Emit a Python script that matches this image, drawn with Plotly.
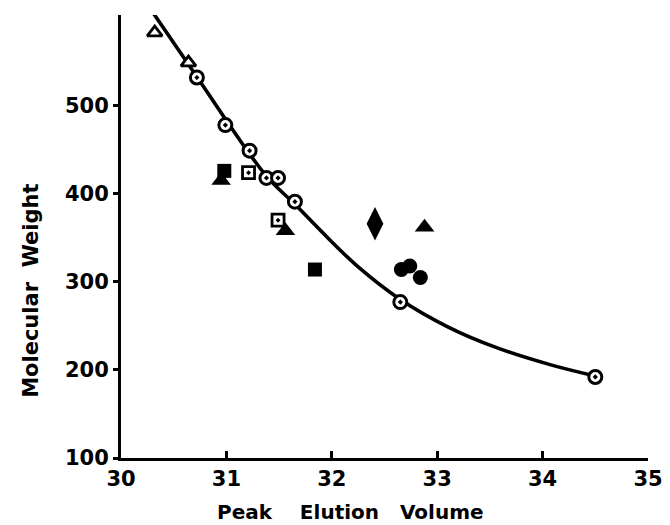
import plotly.graph_objects as go

# Fitted calibration curve
curve_x = [30.29, 30.72, 30.99, 31.38, 31.65, 31.97, 32.25, 32.65, 33.10, 33.57, 34.07, 34.50]
curve_y = [608, 533, 485, 420, 388, 349, 317, 280, 249, 225, 206, 193]

# Open circles with dot (on curve)
oc_x = [30.72, 30.99, 31.22, 31.38, 31.49, 31.65, 32.65, 34.50]
oc_y = [532, 478, 449, 418, 418, 391, 277, 192]

# Open triangles
ot_x = [30.32, 30.64]
ot_y = [583, 549]

# Open squares with dot
os_x = [31.21, 31.49]
os_y = [424, 370]

# Filled squares
fs_x = [30.98, 31.84]
fs_y = [426, 314]

# Filled triangles
ft_x = [30.95, 31.56, 32.88]
ft_y = [415, 358, 362]

# Filled diamond
fd_x = [32.41]
fd_y = [366]

# Filled circles
fc_x = [32.66, 32.74, 32.84]
fc_y = [314, 318, 305]

x_ticks = [30, 31, 32, 33, 34, 35]
y_ticks = [100, 200, 300, 400, 500]

fig = go.Figure()
fig.add_trace(go.Scatter(x=curve_x, y=curve_y, mode="lines",
                         line=dict(color="black", width=3.6, shape="spline", smoothing=1.0),
                         hoverinfo="skip"))
fig.add_trace(go.Scatter(x=ot_x, y=ot_y, mode="markers",
                         marker=dict(symbol="triangle-up", size=13, color="white", line=dict(color="black", width=2.8))))
fig.add_trace(go.Scatter(x=oc_x, y=oc_y, mode="markers",
                         marker=dict(symbol="circle-dot", size=13, color="white", line=dict(color="black", width=3))))
fig.add_trace(go.Scatter(x=os_x, y=os_y, mode="markers",
                         marker=dict(symbol="square-dot", size=12, color="white", line=dict(color="black", width=2.8))))
fig.add_trace(go.Scatter(x=fs_x, y=fs_y, mode="markers",
                         marker=dict(symbol="square", size=14, color="black")))
fig.add_trace(go.Scatter(x=ft_x, y=ft_y, mode="markers",
                         marker=dict(symbol="triangle-up", size=17, color="black")))
fig.add_trace(go.Scatter(x=fd_x, y=fd_y, mode="markers",
                         marker=dict(symbol="diamond-tall", size=24, color="black")))
fig.add_trace(go.Scatter(x=fc_x, y=fc_y, mode="markers",
                         marker=dict(symbol="circle", size=15, color="black")))

tfont = dict(size=21, family="DejaVu Sans", color="black", weight="bold")

fig.update_layout(
    width=662, height=517,
    paper_bgcolor="white", plot_bgcolor="white",
    showlegend=False,
    margin=dict(l=113, r=18, t=7, b=67),
    xaxis=dict(range=[30, 35], tickvals=x_ticks, ticks="inside", ticklen=7, tickwidth=2.5, tickcolor="black",
               showline=True, linecolor="black", linewidth=3, showgrid=False, zeroline=False,
               tickfont=tfont),
    yaxis=dict(range=[100, 603], tickvals=y_ticks, ticks="outside", ticklen=5, tickwidth=2.5, tickcolor="black",
               showline=True, linecolor="black", linewidth=3, showgrid=False, zeroline=False,
               tickfont=tfont),
    annotations=[
        dict(text="Peak\u00a0\u00a0\u00a0\u00a0Elution\u00a0\u00a0\u00a0Volume", xref="paper", yref="paper",
             x=0.435, y=-0.122, xanchor="center", yanchor="middle", showarrow=False,
             font=dict(size=20, family="DejaVu Sans", color="black", weight="bold")),
        dict(text="Molecular\u00a0\u00a0Weight", xref="paper", yref="paper",
             x=-0.171, y=0.377, xanchor="center", yanchor="middle", showarrow=False, textangle=-90,
             font=dict(size=21, family="DejaVu Sans", color="black", weight="bold")),
    ],
)

fig.write_html("out.html")
